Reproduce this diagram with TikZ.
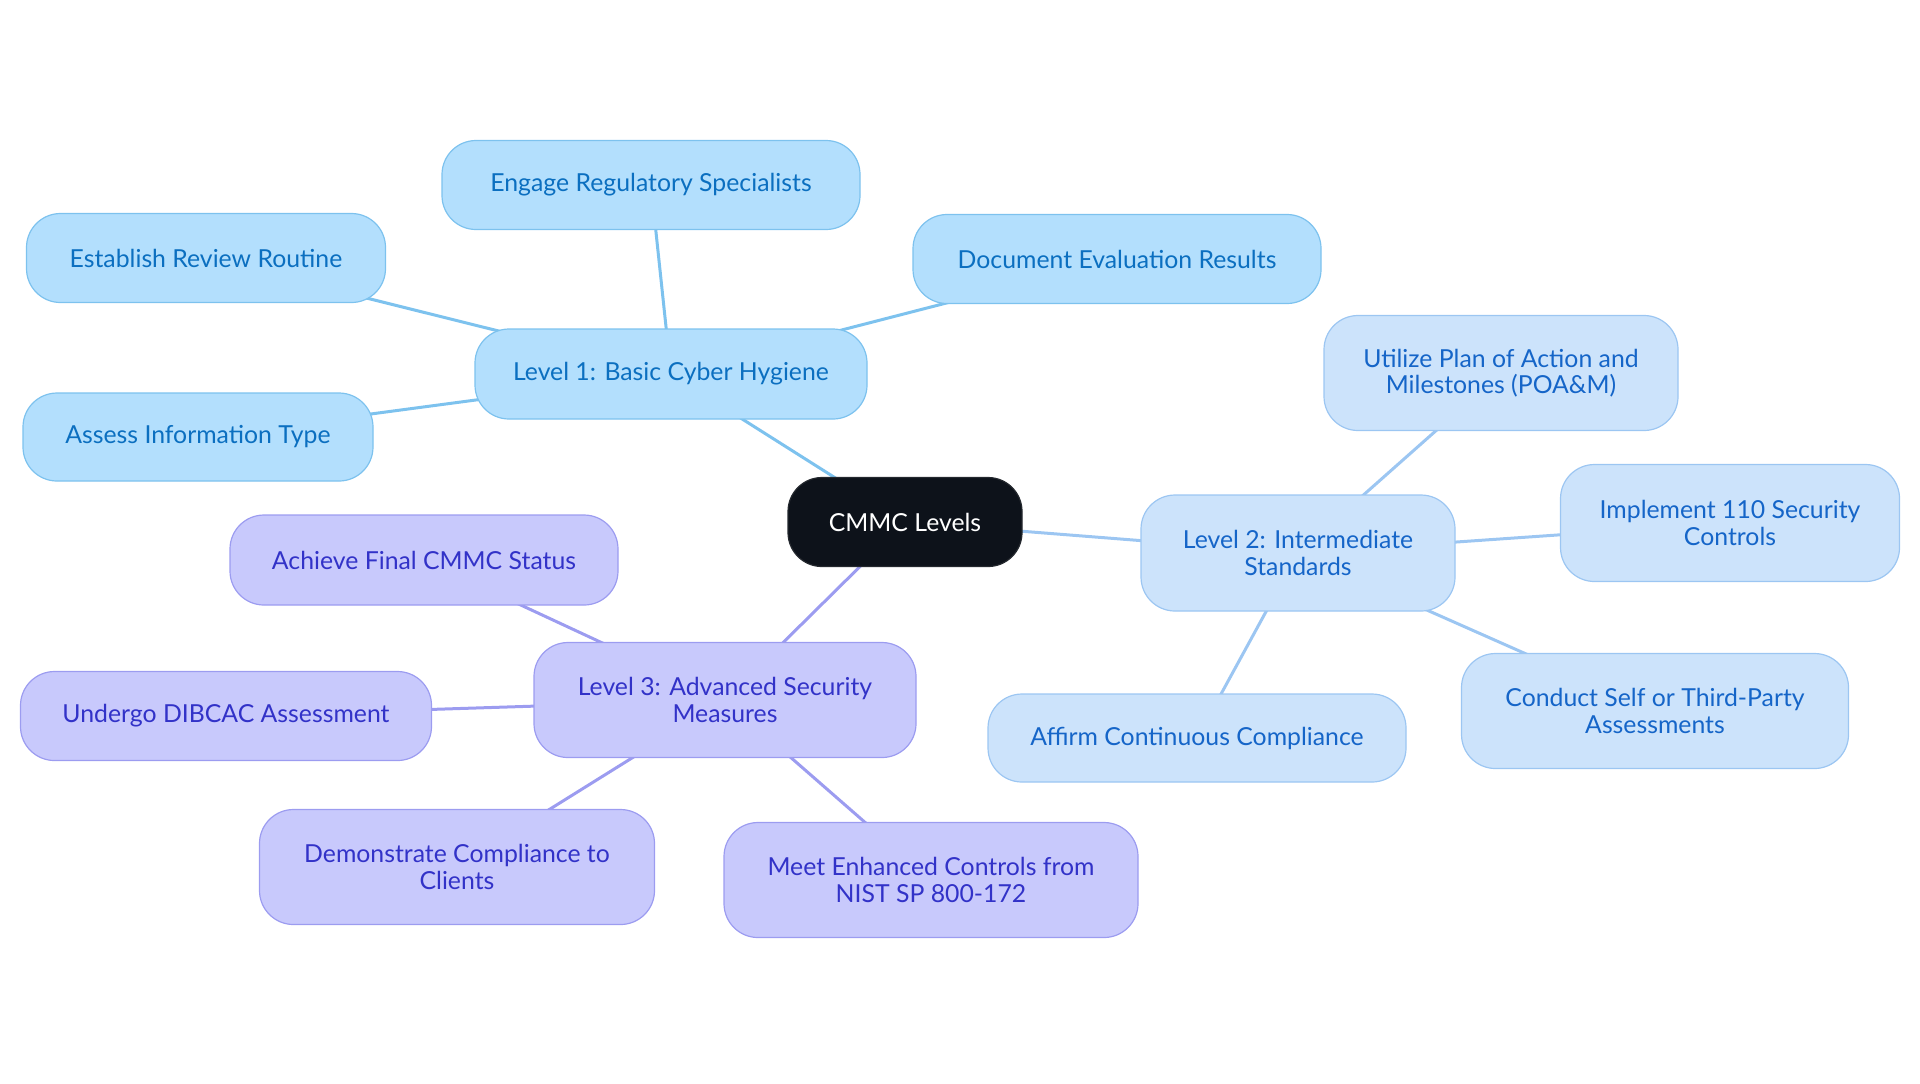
\documentclass[tikz,border=0pt]{standalone}
\usepackage{fontspec}
\setmainfont{Lato}
\usetikzlibrary{backgrounds}
\definecolor{cfill}{HTML}{0D121A}
\definecolor{afill}{HTML}{B3DFFD}
\definecolor{aline}{HTML}{7DC2EE}
\definecolor{atext}{HTML}{0B6FC0}
\definecolor{bfill}{HTML}{CCE3FB}
\definecolor{bline}{HTML}{9CC6F2}
\definecolor{btext}{HTML}{1565C8}
\definecolor{dfill}{HTML}{C8C9FC}
\definecolor{dline}{HTML}{9C9CF0}
\definecolor{dtext}{HTML}{3232C8}
\tikzset{
  x=0.5pt, y=-0.5pt,
  base/.style={rounded corners=17pt, line width=0.6pt, align=center, inner sep=0pt,
    font=\fontsize{12.4}{13.2}\selectfont},
  root/.style={base, fill=cfill, draw=cfill!80!gray, text=white},
  lone/.style={base, fill=afill, draw=aline, text=atext},
  ltwo/.style={base, fill=bfill, draw=bline, text=btext},
  lthree/.style={base, fill=dfill, draw=dline, text=dtext},
  ea/.style={draw=aline, line width=1.5pt},
  eb/.style={draw=bline, line width=1.5pt},
  ed/.style={draw=dline, line width=1.5pt},
}
\newcommand{\bx}[6]{\node[#1, minimum width=#4*0.5pt, minimum height=#5*0.5pt] (#6) at (#2,#3)}
\begin{document}
\begin{tikzpicture}
\useasboundingbox (0,0) rectangle (1920,1083);
\bx{root}{905}{522}{234}{89}{c} {CMMC Levels};
\bx{lone}{671}{374}{392}{90}{a} {Level 1: Basic Cyber Hygiene};
\bx{lone}{651}{185}{418}{89}{a1} {Engage Regulatory Specialists};
\bx{lone}{206}{258}{359}{89}{a2} {Establish Review Routine};
\bx{lone}{1117}{259}{408}{89}{a3} {Document Evaluation Results};
\bx{lone}{198}{437}{350}{88}{a4} {Assess Information Type};
\bx{ltwo}{1298}{553}{314}{116}{b} {Level 2: Intermediate\\Standards};
\bx{ltwo}{1501}{373}{354}{115}{b1} {Utilize Plan of Action and\\Milestones (POA\&M)};
\bx{ltwo}{1730}{523}{339}{117}{b2} {Implement 110 Security\\Controls};
\bx{ltwo}{1655}{711}{387}{115}{b3} {Conduct Self or Third-Party\\Assessments};
\bx{ltwo}{1197}{738}{418}{88}{b4} {Affirm Continuous Compliance};
\bx{lthree}{725}{700}{382}{115}{d} {Level 3: Advanced Security\\Measures};
\bx{lthree}{424}{560}{388}{90}{d1} {Achieve Final CMMC Status};
\bx{lthree}{226}{716}{411}{89}{d2} {Undergo DIBCAC Assessment};
\bx{lthree}{457}{867}{395}{115}{d3} {Demonstrate Compliance to\\Clients};
\bx{lthree}{931}{880}{414}{115}{d4} {Meet Enhanced Controls from\\NIST SP 800-172};
\begin{scope}[on background layer]
\draw[ea] (c.center) -- (a.center);
\draw[ea] (a.center) -- (a1.center);
\draw[ea] (a.center) -- (a2.center);
\draw[ea] (a.center) -- (a3.center);
\draw[ea] (a.center) -- (a4.center);
\draw[eb] (c.center) -- (b.center);
\draw[eb] (b.center) -- (b1.center);
\draw[eb] (b.center) -- (b2.center);
\draw[eb] (b.center) -- (b3.center);
\draw[eb] (b.center) -- (b4.center);
\draw[ed] (c.center) -- (d.center);
\draw[ed] (d.center) -- (d1.center);
\draw[ed] (d.center) -- (d2.center);
\draw[ed] (d.center) -- (d3.center);
\draw[ed] (d.center) -- (d4.center);
\end{scope}
\end{tikzpicture}
\end{document}
